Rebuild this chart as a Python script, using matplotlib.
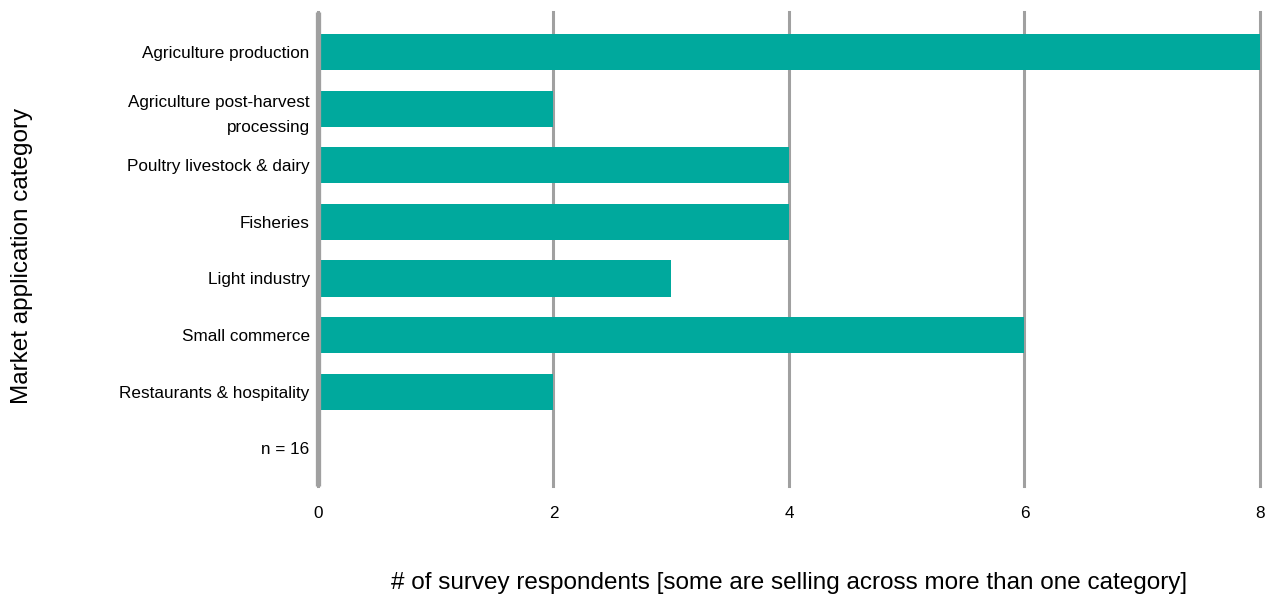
import matplotlib.pyplot as plt

plt.rcParams['font.family'] = ['Liberation Sans', 'DejaVu Sans']

# data
categories = ["Agriculture production", "Agriculture post-harvest\nprocessing",
              "Poultry livestock & dairy", "Fisheries", "Light industry",
              "Small commerce", "Restaurants & hospitality", "n = 16"]
respondents = [8, 2, 4, 4, 3, 6, 2, 0]
x_ticks = [0, 2, 4, 6, 8]

fig = plt.figure(figsize=(12.79, 5.98), dpi=100)
ax = fig.add_axes([0.2486, 0.187, 0.7365, 0.793])

pos = list(range(len(categories)))
ax.barh(pos, respondents, height=0.64, color="#00a99d", zorder=2)

ax.set_ylim(len(categories) - 0.33, -0.71)
ax.set_xlim(0, 8)
ax.set_yticks(pos)
ax.set_yticklabels(categories, fontsize=12.3, linespacing=1.85)
ax.set_xticks(x_ticks)
ax.set_xticklabels([str(t) for t in x_ticks], fontsize=12.3)
ax.tick_params(axis="both", length=0)
ax.tick_params(axis="x", pad=14)
ax.tick_params(axis="y", pad=6)

ax.grid(axis="x", color="#a0a0a0", linewidth=2.2, zorder=1)
ax.set_axisbelow(True)
for gl in ax.get_xgridlines():
    gl.set_clip_on(False)
for s in ["top", "right", "bottom"]:
    ax.spines[s].set_visible(False)
ax.spines["left"].set_color("#a0a0a0")
ax.spines["left"].set_linewidth(3.8)
ax.spines["left"].set_capstyle("butt")

ax.set_xlabel("# of survey respondents [some are selling across more than one category]",
              fontsize=17.5, labelpad=37)
fig.text(0.017, 0.572, "Market application category", rotation=90,
         fontsize=17.5, ha="center", va="center")

fig.savefig("out.png", dpi=100)
